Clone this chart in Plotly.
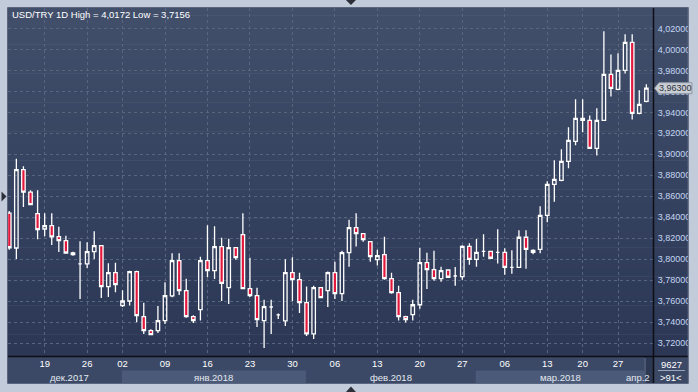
import plotly.graph_objects as go
import numpy as np

# ---------------- data ----------------
opens = [3.8440, 3.8108, 3.8854, 3.8641, 3.8435, 3.8289, 3.8321, 3.8216, 3.8178, 3.8060,
         3.7956, 3.7956, 3.8073, 3.8130, 3.7740, 3.7873, 3.7559, 3.7603, 3.7883, 3.7454,
         3.7321, 3.7321, 3.7416, 3.7651, 3.7987, 3.7702, 3.7454, 3.7521, 3.7987, 3.7892,
         3.8121, 3.7730, 3.8111, 3.8235, 3.7721, 3.7654, 3.7416, 3.7546, 3.7470, 3.7413,
         3.7873, 3.7806, 3.7587, 3.7289, 3.7730, 3.7702, 3.7873, 3.7673, 3.8063, 3.8302,
         3.8244, 3.8168, 3.7997, 3.8044, 3.7816, 3.7683, 3.7454, 3.7473, 3.7567, 3.7968,
         3.7902, 3.7816, 3.7898, 3.7841, 3.7835, 3.8124, 3.8000, 3.8076, 3.8076, 3.8067,
         3.8067, 3.7924, 3.7924, 3.8210, 3.8086, 3.8095, 3.8419, 3.8714, 3.8752, 3.8933,
         3.9124, 3.9343, 3.9324, 3.9057, 3.9324, 3.9762, 3.9619, 3.9800, 4.0067, 3.9390,
         3.9505]
highs = [3.8460, 3.8959, 3.8886, 3.8657, 3.8657, 3.8438, 3.8438, 3.8311, 3.8225, 3.8073,
         3.8171, 3.8162, 3.8267, 3.8130, 3.7962, 3.7968, 3.7705, 3.7892, 3.7892, 3.7587,
         3.7333, 3.7556, 3.7781, 3.8057, 3.8057, 3.7816, 3.7467, 3.8025, 3.8324, 3.8314,
         3.8206, 3.8197, 3.8111, 3.8438, 3.8016, 3.7730, 3.7616, 3.7616, 3.7483, 3.8000,
         3.8019, 3.7873, 3.7740, 3.7749, 3.7730, 3.7883, 3.7978, 3.8082, 3.8378, 3.8438,
         3.8248, 3.8168, 3.8092, 3.8216, 3.7873, 3.7749, 3.7463, 3.7616, 3.8111, 3.8063,
         3.8082, 3.7930, 3.7898, 3.7927, 3.8133, 3.8152, 3.8194, 3.8238, 3.8076, 3.8286,
         3.8105, 3.8086, 3.8276, 3.8276, 3.8095, 3.8505, 3.8743, 3.8943, 3.9048, 3.9257,
         3.9524, 3.9524, 3.9371, 3.9438, 4.0172, 3.9952, 3.9962, 4.0143, 4.0143, 3.9610,
         3.9667]
lows = [3.8090, 3.8003, 3.8498, 3.8521, 3.8190, 3.8219, 3.8137, 3.8070, 3.8060, 3.8035,
        3.7622, 3.7917, 3.8003, 3.7632, 3.7641, 3.7686, 3.7546, 3.7559, 3.7400, 3.7289,
        3.7283, 3.7298, 3.7384, 3.7638, 3.7660, 3.7444, 3.7394, 3.7416, 3.7829, 3.7813,
        3.7603, 3.7575, 3.7997, 3.7721, 3.7641, 3.7356, 3.7156, 3.7289, 3.7432, 3.7365,
        3.7603, 3.7489, 3.7270, 3.7241, 3.7635, 3.7546, 3.7622, 3.7603, 3.7930, 3.8121,
        3.8168, 3.7978, 3.7940, 3.7806, 3.7673, 3.7416, 3.7397, 3.7416, 3.7529, 3.7718,
        3.7797, 3.7787, 3.7829, 3.7749, 3.7806, 3.7949, 3.7930, 3.8025, 3.8010, 3.7959,
        3.7854, 3.7863, 3.7924, 3.7911, 3.8048, 3.8057, 3.8352, 3.8549, 3.8743, 3.8867,
        3.9086, 3.9210, 3.9057, 3.8990, 3.9324, 3.9552, 3.9610, 3.9771, 3.9333, 3.9381,
        3.9495]
closes = [3.8110, 3.8854, 3.8641, 3.8521, 3.8283, 3.8321, 3.8213, 3.8178, 3.8060, 3.8044,
          3.7956, 3.8073, 3.8130, 3.7740, 3.7873, 3.7759, 3.7603, 3.7883, 3.7463, 3.7321,
          3.7283, 3.7416, 3.7654, 3.7987, 3.7702, 3.7454, 3.7416, 3.7987, 3.7892, 3.8121,
          3.7771, 3.8111, 3.8016, 3.7721, 3.7654, 3.7425, 3.7549, 3.7546, 3.7470, 3.7873,
          3.7806, 3.7587, 3.7289, 3.7730, 3.7635, 3.7873, 3.7673, 3.8063, 3.8302, 3.8244,
          3.8187, 3.8025, 3.8035, 3.7816, 3.7683, 3.7454, 3.7425, 3.7567, 3.7968, 3.7902,
          3.7816, 3.7893, 3.7829, 3.7841, 3.8124, 3.8000, 3.8067, 3.8076, 3.8010, 3.8067,
          3.7924, 3.7924, 3.8210, 3.8095, 3.8067, 3.8419, 3.8714, 3.8762, 3.8933, 3.9133,
          3.9343, 3.9324, 3.9057, 3.9324, 3.9762, 3.9629, 3.9800, 4.0067, 3.9390, 3.9476,
          3.9630]

day_tick_idx = [5, 11, 16, 22, 28, 34, 40, 46, 52, 58, 64, 70, 76, 81, 86]
day_tick_text = ["19", "26", "02", "09", "16", "23", "30", "06", "13", "20", "27", "06", "13", "20", "27"]

month_names = ["дек.2017", "янв.2018", "фев.2018", "мар.2018", "апр.2"]
month_start_idx = [0, 16, 42, 66, 90]

y_ticks = [3.72, 3.74, 3.76, 3.78, 3.80, 3.82, 3.84, 3.86, 3.88, 3.90,
           3.92, 3.94, 3.96, 3.98, 4.00, 4.02]

title_text = "USD/TRY 1D High = 4,0172 Low = 3,7156"
bars_count = 9627
visible_count = 91

# ---------------- layout geometry ----------------
W, H = 698, 392
L, R, T, B = 8, 655, 8, 356
XMIN, XMAX = -0.18, 90.94
YMIN, YMAX = 3.7079, 4.0394


def px(x):
    return (x - L) / (R - L)


def py(y):
    return (B - y) / (B - T)


def ix(i):  # candle index -> paper x
    return (i - XMIN) / (XMAX - XMIN)


def vy(v):  # price -> paper y
    return (v - YMIN) / (YMAX - YMIN)


x = list(range(len(opens)))
FONT = "Liberation Sans, Arial, sans-serif"

fig = go.Figure()
fig.add_trace(go.Candlestick(
    x=x, open=opens, high=highs, low=lows, close=closes,
    increasing=dict(line=dict(color="#ffffff", width=1.3), fillcolor="rgba(0,0,0,0)"),
    decreasing=dict(line=dict(color="#ffffff", width=1.3), fillcolor="#e3163c"),
    whiskerwidth=0, showlegend=False, hoverinfo="skip",
))

shapes = []
# gradient background of plot + right axis strip
N = 48
top_c = np.array([0x41, 0x4f, 0x6b])
bot_c = np.array([0x2b, 0x37, 0x55])
for k in range(N):
    t = (k + 0.5) / N
    c = (top_c * (1 - t) + bot_c * t).round().astype(int)
    y0 = T + k * (B - T) / N
    y1 = T + (k + 1) * (B - T) / N + 0.6
    shapes.append(dict(type="rect", xref="paper", yref="paper", layer="below",
                       x0=px(L), x1=px(690), y0=py(min(y1, B)), y1=py(y0),
                       fillcolor="rgb(%d,%d,%d)" % tuple(c), line=dict(width=0)))

# bottom strip
shapes.append(dict(type="rect", xref="paper", yref="paper", layer="below",
                   x0=px(L), x1=px(690), y0=py(383), y1=py(B),
                   fillcolor="#3b4966", line=dict(width=0)))
# alternating month bands (lower row)
bounds = [XMIN] + [s - 0.1 for s in month_start_idx[1:]] + [89.7]
for m in range(len(month_start_idx) - 1):
    if m % 2 == 1:
        shapes.append(dict(type="rect", xref="paper", yref="paper", layer="below",
                           x0=ix(bounds[m]), x1=ix(bounds[m + 1]), y0=py(383), y1=py(370.5),
                           fillcolor="#4b5a78", line=dict(width=0)))
# scroller piece at right end of bottom strip
shapes.append(dict(type="rect", xref="paper", yref="paper", layer="below",
                   x0=px(646), x1=px(655), y0=py(383), y1=py(357),
                   fillcolor="#2d3852", line=dict(width=0)))
shapes.append(dict(type="line", xref="paper", yref="paper", layer="below",
                   x0=px(647), x1=px(647), y0=py(383), y1=py(358),
                   line=dict(color="#6c7891", width=1)))
# right-bottom info box
shapes.append(dict(type="rect", xref="paper", yref="paper", layer="below",
                   x0=px(656), x1=px(690), y0=py(383), y1=py(357),
                   fillcolor="#3b4966", line=dict(width=0)))
shapes.append(dict(type="line", xref="paper", yref="paper", layer="above",
                   x0=px(660), x1=px(687), y0=py(370.5), y1=py(370.5),
                   line=dict(color="#9aa6bd", width=1)))
# dark frame lines
shapes.append(dict(type="line", xref="paper", yref="paper", layer="above",
                   x0=px(655.5), x1=px(655.5), y0=py(383), y1=py(T),
                   line=dict(color="#0d0f14", width=1.5)))
shapes.append(dict(type="line", xref="paper", yref="paper", layer="above",
                   x0=px(L), x1=px(690), y0=py(356.5), y1=py(356.5),
                   line=dict(color="#0d0f14", width=1.5)))
shapes.append(dict(type="rect", xref="paper", yref="paper", layer="above",
                   x0=px(L - 0.5), x1=px(690.5), y0=py(383.5), y1=py(T - 0.5),
                   line=dict(color="#5b6680", width=1), fillcolor="rgba(0,0,0,0)"))


def tri(points, color):
    p = "M " + " L ".join("%f,%f" % (px(a), py(b)) for a, b in points) + " Z"
    return dict(type="path", xref="paper", yref="paper", layer="above", path=p,
                fillcolor=color, line=dict(width=0))


shapes.append(tri([(347, 0), (357, 0), (352, 5)], "#2a2f3a"))
shapes.append(tri([(347, 392), (357, 392), (352, 386.5)], "#2a2f3a"))
shapes.append(tri([(1.5, 191.5), (1.5, 201.5), (6.5, 196.5)], "#2a2f3a"))

# current price tag
cur = closes[-1]
cur_y = B - vy(cur) * (B - T)
shapes.append(dict(type="path", xref="paper", yref="paper", layer="above",
                   path="M %f,%f L %f,%f L %f,%f L %f,%f L %f,%f Z" % (
                       px(656.5), py(cur_y), px(661), py(cur_y - 5.5), px(694), py(cur_y - 5.5),
                       px(694), py(cur_y + 5.5), px(661), py(cur_y + 5.5)),
                   fillcolor="#c9cdd4", line=dict(color="#8f96a3", width=1)))

annotations = []
annotations.append(dict(text=title_text, xref="paper", yref="paper", x=px(10), y=py(14.5),
                        xanchor="left", yanchor="middle", showarrow=False,
                        font=dict(family=FONT, size=9.5, color="#ffffff")))
# month labels
for m, name in enumerate(month_names):
    if m < len(month_names) - 1:
        a = max(bounds[m], 1.0)
        b = bounds[m + 1]
        annotations.append(dict(text=name, xref="paper", yref="paper", x=ix((a + b) / 2), y=py(377),
                                xanchor="center", yanchor="middle", showarrow=False,
                                font=dict(family=FONT, size=9.5, color="#e4e9f1")))
    else:
        annotations.append(dict(text=name, xref="paper", yref="paper", x=px(654), y=py(377),
                                xanchor="right", yanchor="middle", showarrow=False,
                                font=dict(family=FONT, size=9.5, color="#e4e9f1")))
annotations.append(dict(text=str(bars_count), xref="paper", yref="paper", x=px(673.5), y=py(364),
                        xanchor="center", yanchor="middle", showarrow=False,
                        font=dict(family=FONT, size=9.5, color="#ffffff")))
annotations.append(dict(text="&gt;%d&lt;" % visible_count, xref="paper", yref="paper", x=px(673.5), y=py(377),
                        xanchor="center", yanchor="middle", showarrow=False,
                        font=dict(family=FONT, size=9.5, color="#ffffff")))
annotations.append(dict(text=("%.5f" % cur).replace(".", ","), xref="paper", yref="paper",
                        x=px(677.5), y=vy(cur), xanchor="center", yanchor="middle", showarrow=False,
                        font=dict(family=FONT, size=9, color="#2c3240")))

fig.update_layout(
    width=W, height=H,
    margin=dict(l=L, r=W - R, t=T, b=H - B, pad=0),
    paper_bgcolor="#c2cbd9",
    plot_bgcolor="rgba(0,0,0,0)",
    separators=", ",
    shapes=shapes,
    annotations=annotations,
    showlegend=False,
    xaxis=dict(range=[XMIN, XMAX], rangeslider=dict(visible=False),
               tickmode="array", tickvals=day_tick_idx, ticktext=day_tick_text,
               ticks="", ticklen=0,
               tickfont=dict(family=FONT, size=9.5, color="#ffffff"),
               showgrid=True, gridcolor="#57657f", griddash="3px,3px", gridwidth=1,
               zeroline=False, showline=False, fixedrange=True),
    yaxis=dict(range=[YMIN, YMAX], side="right", tickmode="array", tickvals=y_ticks,
               tickformat=".5f", ticks="outside", ticklen=2, tickcolor="rgba(0,0,0,0)",
               tickfont=dict(family=FONT, size=9, color="#c5d6f2"),
               showgrid=True, gridcolor="#57657f", griddash="3px,3px", gridwidth=1,
               zeroline=False, showline=False, fixedrange=True),
)

fig.write_html("out.html")
